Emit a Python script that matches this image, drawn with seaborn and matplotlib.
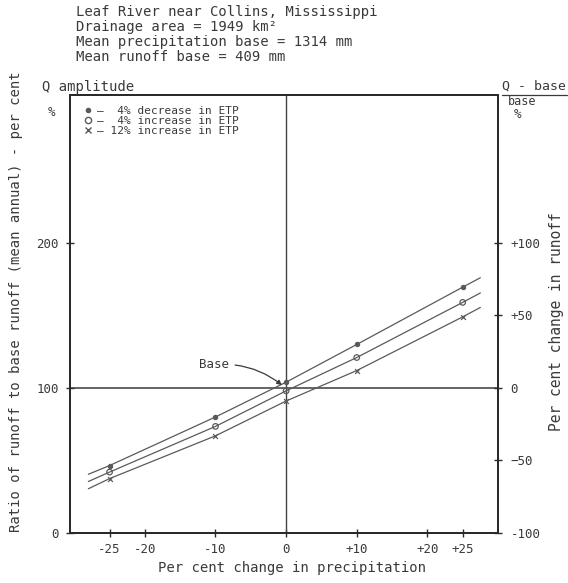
import matplotlib
matplotlib.use("Agg")
import matplotlib.pyplot as plt
import seaborn as sns
import pandas as pd
from matplotlib.lines import Line2D

# ---------------- data ----------------
precip_change = [-28, -25, -10, 0, 10, 25, 27.5]          # curve abscissae (% change in P)
runoff_etp_dec4 = [40.5, 46.5, 80, 104, 130, 169.5, 176]  # 4% decrease in ETP
runoff_etp_inc4 = [35.5, 42, 73.5, 98, 121, 159, 165.5]   # 4% increase in ETP
runoff_etp_inc12 = [30.5, 37.5, 67, 91, 112, 149, 155.5]  # 12% increase in ETP
marker_precip = [-25, -10, 0, 10, 25]                     # where plotted points sit
series_labels = ["4% decrease in ETP", "4% increase in ETP", "12% increase in ETP"]
legend_texts = ["\u2014  4% decrease in ETP", "\u2014  4% increase in ETP", "\u2014 12% increase in ETP"]

x_ticks = [-25, -20, -10, 0, 10, 20, 25]
x_tick_labels = ["-25", "-20", "-10", "0", "+10", "+20", "+25"]
left_ticks = [0, 100, 200]
left_tick_labels = ["0", "100", "200"]
right_ticks = [-100, -50, 0, 50, 100]
right_tick_labels = ["-100", "\u221250", "0", "+50", "+100"]

title_lines = ["Leaf River near Collins, Mississippi",
               "Drainage area = 1949 km\u00b2",
               "Mean precipitation base = 1314 mm",
               "Mean runoff base = 409 mm"]

base_point = (0, 100)

# ---------------- data frames ----------------
rows = []
for lab, vals in zip(series_labels, [runoff_etp_dec4, runoff_etp_inc4, runoff_etp_inc12]):
    for x, y in zip(precip_change, vals):
        rows.append({"series": lab, "precip": x, "runoff": y})
df = pd.DataFrame(rows)
df_pts = df[df["precip"].isin(marker_precip)]

# ---------------- style ----------------
sns.set_style("ticks")
plt.rcParams["font.family"] = ["DejaVu Sans Mono", "DejaVu Sans"]
TXT = "#3a3a3a"
LINE = "#5a5a5a"
plt.rcParams["text.color"] = TXT
plt.rcParams["axes.edgecolor"] = "#2a2a2a"

W, H = 568, 583
fig = plt.figure(figsize=(W / 100, H / 100), dpi=100)
fig.patch.set_facecolor("white")
L, R, T, B = 70, 498, 95, 533
ax = fig.add_axes([L / W, 1 - B / H, (R - L) / W, (B - T) / H])

# reference lines
ax.axhline(100, color="#3a3a3a", lw=1.1, zorder=1)
ax.axvline(0, color="#444444", lw=1.0, zorder=1)

palette = {s: LINE for s in series_labels}
sns.lineplot(data=df, x="precip", y="runoff", hue="series", palette=palette,
             legend=False, lw=0.9, ax=ax, zorder=2, sort=True)

marker_specs = {
    series_labels[0]: dict(marker="o", s=9, facecolor=LINE, edgecolor=LINE),
    series_labels[1]: dict(marker="o", s=16, facecolor="none", edgecolor=LINE),
    series_labels[2]: dict(marker="x", s=12, color=LINE),
}
for lab in series_labels:
    sub = df_pts[df_pts["series"] == lab]
    spec = marker_specs[lab]
    sns.scatterplot(data=sub, x="precip", y="runoff", ax=ax, zorder=3,
                    linewidth=0.9, legend=False, **spec)

# base annotation
ax.annotate("Base", xy=(base_point[0] - 0.6, base_point[1] + 2), xytext=(-10.2, 116),
            fontsize=9, ha="center", va="center", color=TXT,
            arrowprops=dict(arrowstyle="-|>", color="#3a3a3a", lw=0.9,
                            mutation_scale=7, shrinkA=2, shrinkB=0,
                            connectionstyle="arc3,rad=-0.2"))

ax.set_xlim(-30.6, 30.0)
ax.set_ylim(0, 302)
ax.set_xticks(x_ticks)
ax.set_xticklabels(x_tick_labels)
ax.set_yticks(left_ticks)
ax.set_yticklabels(left_tick_labels)
ax.set_xlabel("")
ax.set_ylabel("")
ax.tick_params(direction="inout", length=6, width=1, labelsize=9, colors="#2a2a2a",
               labelcolor=TXT)
ax.tick_params(axis="x", pad=4)
ax.tick_params(axis="y", pad=5)
for sp in ax.spines.values():
    sp.set_visible(True)
    sp.set_linewidth(1.4)

ax2 = ax.twinx()
ax2.set_ylim(-100, 202)
ax2.set_yticks(right_ticks)
ax2.set_yticklabels(right_tick_labels)
ax2.tick_params(direction="inout", length=6, width=1, labelsize=9, colors="#2a2a2a",
                labelcolor=TXT, pad=6)
for sp in ax2.spines.values():
    sp.set_linewidth(1.4)

# legend
handles = [Line2D([], [], linestyle="none", color=LINE, markerfacecolor=LINE, marker="o", markersize=3),
           Line2D([], [], linestyle="none", color=LINE, markerfacecolor="none", marker="o", markersize=4.5),
           Line2D([], [], linestyle="none", color=LINE, marker="x", markersize=4)]
leg = ax.legend(handles, legend_texts, loc="upper left", bbox_to_anchor=(0.03, 0.975),
                frameon=False, fontsize=8, labelspacing=0.0, handlelength=1.0,
                handletextpad=0.3, borderpad=0.0, borderaxespad=0.0)
for t in leg.get_texts():
    t.set_color(TXT)

# ---------------- outer texts ----------------
def fx(px):
    return px / W

def fy(py):
    return 1 - py / H

for i, line in enumerate(title_lines):
    fig.text(fx(76), fy(12 + 15 * i), line, fontsize=10, ha="left", va="center", color=TXT)

fig.text(fx(42), fy(87), "Q amplitude", fontsize=10, ha="left", va="center", color=TXT)
fig.text(fx(52), fy(112), "%", fontsize=9, ha="center", va="center", color=TXT)

fig.text(fx(502), fy(86), "Q - base", fontsize=9.5, ha="left", va="center", color=TXT)
fig.add_artist(Line2D([fx(502), fx(567)], [fy(95), fy(95)], color="#3a3a3a", lw=0.9))
fig.text(fx(522), fy(102), "base", fontsize=8.5, ha="center", va="center", color=TXT)
fig.text(fx(518), fy(114), "%", fontsize=9, ha="center", va="center", color=TXT)

fig.text(fx(16), fy(302), "Ratio of runoff to base runoff (mean annual) - per cent",
         fontsize=10, rotation=90, ha="center", va="center", color=TXT)
fig.text(fx(557), fy(322), "Per cent change in runoff",
         fontsize=10.5, rotation=90, ha="center", va="center", color=TXT)
fig.text(fx(292), fy(568), "Per cent change in precipitation",
         fontsize=10, ha="center", va="center", color=TXT)

fig.savefig("out.png", dpi=100, facecolor="white")
